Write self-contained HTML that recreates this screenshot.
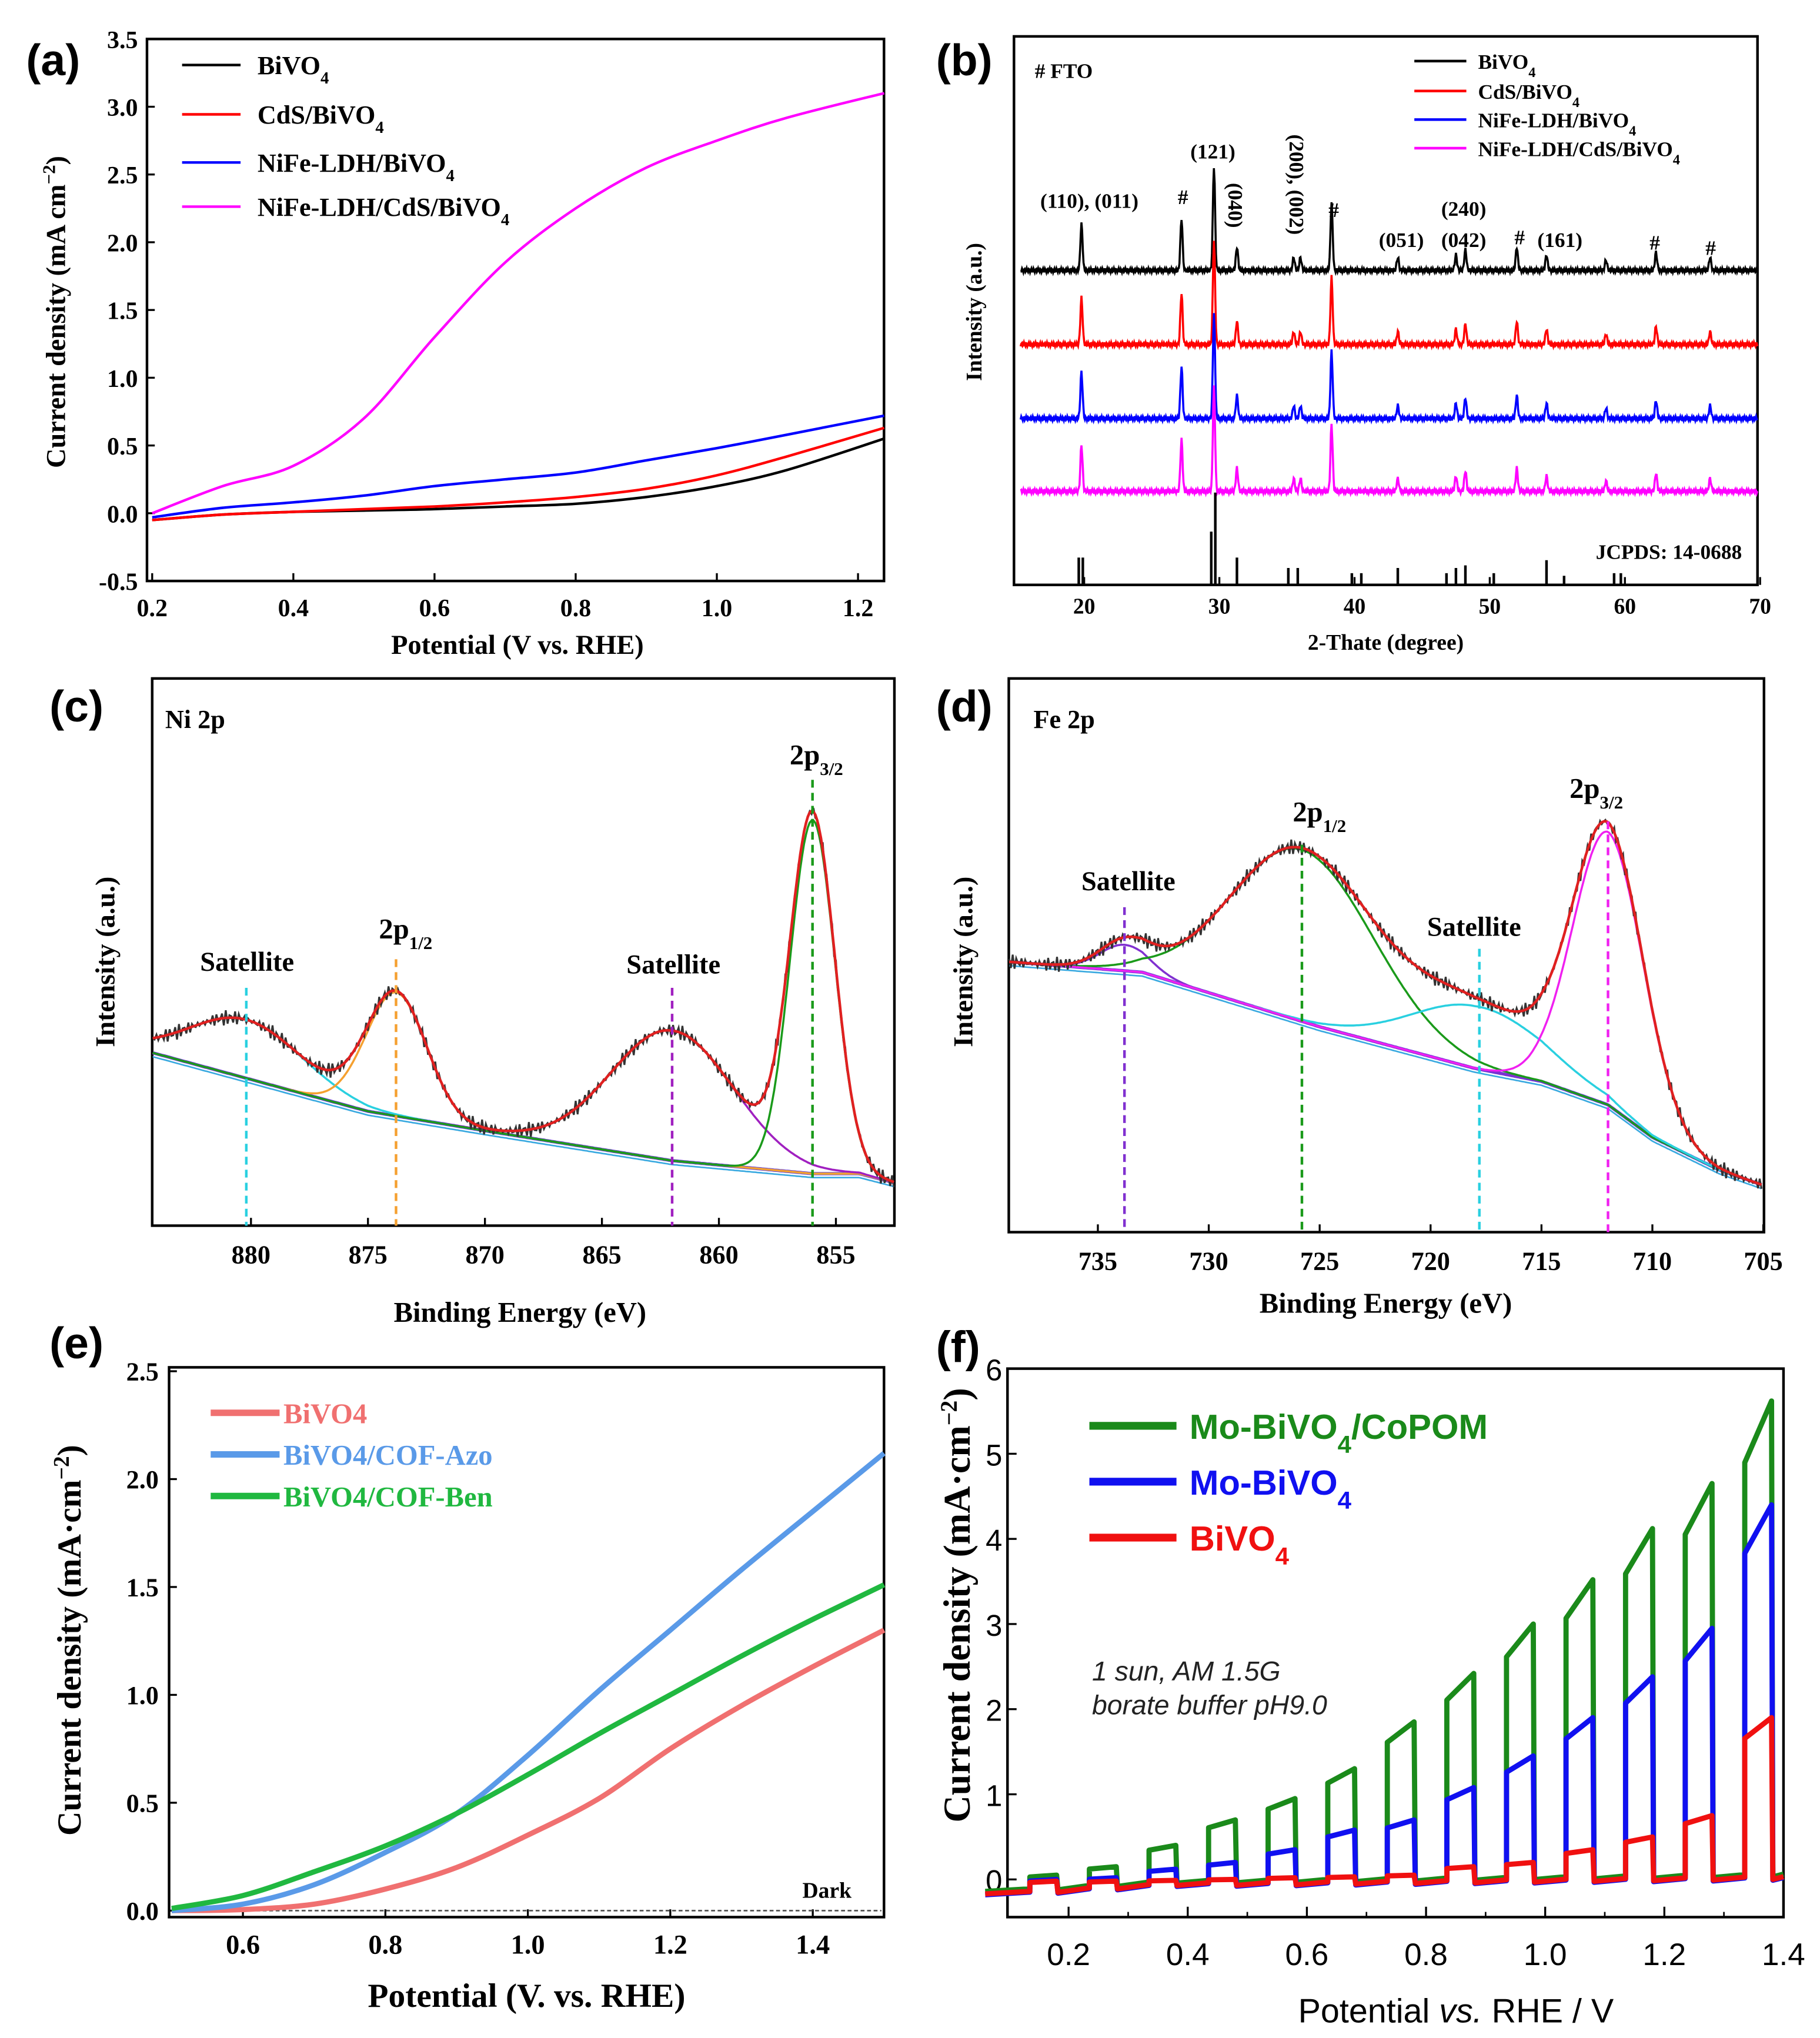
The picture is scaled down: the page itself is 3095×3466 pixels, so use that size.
<!DOCTYPE html>
<html><head><meta charset="utf-8"><style>
html,body{margin:0;padding:0;background:#fff;}
svg{display:block;}
.ser{font-family:"Liberation Serif",serif;font-weight:bold;}
.san{font-family:"Liberation Sans",sans-serif;}
</style></head><body>
<svg id="fig" xmlns="http://www.w3.org/2000/svg" width="3095" height="3466" viewBox="0 0 1400 1568">
<rect width="1400" height="1568" fill="#fff"/>
</svg>
<script>
// ---------- DATA ----------
// (a)
const aX=[0.2,0.3,0.4,0.5,0.6,0.7,0.8,0.9,1.0,1.1,1.237];
const aBi=[-0.05,-0.01,0.01,0.02,0.03,0.05,0.07,0.12,0.2,0.32,0.55];
const aCdS=[-0.05,-0.01,0.01,0.03,0.05,0.08,0.12,0.18,0.28,0.42,0.63];
const aNiFe=[-0.03,0.04,0.08,0.13,0.2,0.25,0.3,0.39,0.48,0.58,0.72];
const aAll=[0.0,0.2,0.35,0.7,1.3,1.85,2.25,2.55,2.75,2.92,3.1];
const aYTicks=[-0.5,0,0.5,1,1.5,2,2.5,3,3.5];
const aXTicks=[0.2,0.4,0.6,0.8,1.0,1.2];
// (b)
const bPeakPos=[19.8,27.2,29.6,31.3,35.5,36,38.3,43.2,47.5,48.2,52,54.2,58.6,62.3,66.3];
const bPeakH=[36,40,80,18,10,10,52,10,12,16,18,12,8,14,10];
const bBase=[208,265,322,378];
const bRefPos=[19.6,19.9,29.4,29.7,31.3,35.1,35.8,39.8,40.5,43.2,46.8,47.5,48.2,50.3,54.2,55.5,59.2,59.7];
const bRefH=[20,20,40,70,20,12,12,8,8,12,8,12,14,8,18,6,8,8];
const bXTicks=[20,30,40,50,60,70];
// (c) Ni 2p gaussians: center eV, amplitude px, sigma eV
const cC=[880.2,873.8,862,856];
const cA=[45,95,100,272];
const cS=[2.4,1.3,2.6,0.95];
const cBgE=[884.2,875,870,862,856,854,852.5];
const cBgY=[810,855,870,893,903,903,910];
const cXTicks=[880,875,870,865,860,855];
// (d) Fe 2p
const dC=[733.8,725.8,717.8,712];
const dA=[20,132,48,210];
const dS=[1.1,3.2,3.0,1.6];
const dBgE=[739,733,725,718,715,712,710,707,705];
const dBgY=[740,748,790,822,832,850,875,900,912];
const dXTicks=[735,730,725,720,715,710,705];
// (e)
const eX=[0.5,0.6,0.7,0.8,0.9,1.0,1.1,1.2,1.3,1.4,1.5];
const eBi=[0,0.005,0.03,0.1,0.2,0.35,0.52,0.75,0.95,1.13,1.3];
const eAzo=[0,0.03,0.12,0.27,0.45,0.72,1.02,1.3,1.58,1.85,2.12];
const eBen=[0.01,0.07,0.18,0.3,0.45,0.63,0.82,1.0,1.18,1.35,1.51];
const eYTicks=[0,0.5,1,1.5,2,2.5];
const eXTicks=[0.6,0.8,1.0,1.2,1.4];
// (f) chopped light: pulse end potentials and peak values
const fE=[0.18,0.28,0.38,0.48,0.58,0.68,0.78,0.88,0.98,1.08,1.18,1.28,1.38];
const fGreen=[0.05,0.15,0.4,0.7,0.95,1.3,1.85,2.42,3.0,3.52,4.12,4.65,5.62];
const fBlue=[0.0,0.02,0.12,0.2,0.35,0.58,0.7,1.08,1.45,1.9,2.38,2.95,4.4];
const fRed=[-0.02,-0.02,-0.01,0,0.02,0.03,0.05,0.15,0.2,0.35,0.5,0.75,1.9];
const fYTicks=[0,1,2,3,4,5,6];
const fXTicks=[0.2,0.4,0.6,0.8,1.0,1.2,1.4];

// ---------- HELPERS ----------
const NS="http://www.w3.org/2000/svg";
const svg=document.getElementById('fig');
function mk(tag,attrs,parent){const e=document.createElementNS(NS,tag);for(const k in attrs)e.setAttribute(k,attrs[k]);(parent||svg).appendChild(e);return e;}
function txt(x,y,s,size,cls,anchor,fill,parent){const t=mk('text',{x:x,y:y,'font-size':size,'class':cls,'text-anchor':anchor||'middle',fill:fill||'#000'},parent);t.innerHTML=s;return t;}
function lin(d0,d1,p0,p1){return v=>p0+(v-d0)*(p1-p0)/(d1-d0);}
function interpDesc(E,Y){return e=>{for(let i=0;i<E.length-1;i++){if(e<=E[i]&&e>=E[i+1]){const t=(E[i]-e)/(E[i]-E[i+1]);return Y[i]+t*(Y[i+1]-Y[i]);}}return e>E[0]?Y[0]:Y[Y.length-1];};}
function smooth(xs,ys,sx,sy){
  const P=xs.map((x,i)=>[sx(x),sy(ys[i])]);let d='M'+P[0][0]+','+P[0][1];
  for(let i=0;i<P.length-1;i++){const p0=P[i-1]||P[i],p1=P[i],p2=P[i+1],p3=P[i+2]||p2;
    d+='C'+(p1[0]+(p2[0]-p0[0])/6).toFixed(1)+','+(p1[1]+(p2[1]-p0[1])/6).toFixed(1)+' '+(p2[0]-(p3[0]-p1[0])/6).toFixed(1)+','+(p2[1]-(p3[1]-p1[1])/6).toFixed(1)+' '+p2[0].toFixed(1)+','+p2[1].toFixed(1);}
  return d;}
function box(g,x0,y0,x1,y1){return mk('rect',{x:x0,y:y0,width:x1-x0,height:y1-y0,fill:'none',stroke:'#000','stroke-width':2},g);}
function group(name){const g=mk('g',{});return g;}

// ---------- PANEL A ----------
(function(){
const g=group('panel-a');
const sx=lin(0.2,1.2,117,660), sy=lin(-0.5,3.5,447,30);
box(g,113,30,680,447);
aYTicks.forEach(v=>{mk('line',{x1:113,x2:119,y1:sy(v),y2:sy(v),stroke:'#000','stroke-width':1.5},g);txt(106,sy(v)+7,v.toFixed(1),19,'ser','end','#000',g);});
aXTicks.forEach(v=>{mk('line',{x1:sx(v),x2:sx(v),y1:447,y2:441,stroke:'#000','stroke-width':1.5},g);txt(sx(v),474,v.toFixed(1),19,'ser','middle','#000',g);});
txt(398,503,'Potential (V vs. RHE)',21,'ser','middle','#000',g);
const yl=txt(0,0,'Current density (mA cm<tspan baseline-shift="super" font-size="14">−2</tspan>)',21,'ser','middle','#000',g);yl.setAttribute('transform','translate(50,240) rotate(-90)');
txt(20,58,'(a)',34,'san','start','#000',g).setAttribute('font-weight','bold');
const ser=[[aBi,'#000','series-bivo4'],[aCdS,'#f00','series-cds-bivo4'],[aNiFe,'#00f','series-nife-bivo4'],[aAll,'#f0f','series-nife-cds-bivo4']];
ser.forEach(s=>{const p=mk('path',{d:smooth(aX,s[0],sx,sy),fill:'none',stroke:s[1],'stroke-width':2},g);});
const leg=[['BiVO<tspan baseline-shift="sub" font-size="13">4</tspan>','#000',50],['CdS/BiVO<tspan baseline-shift="sub" font-size="13">4</tspan>','#f00',88],['NiFe-LDH/BiVO<tspan baseline-shift="sub" font-size="13">4</tspan>','#00f',125],['NiFe-LDH/CdS/BiVO<tspan baseline-shift="sub" font-size="13">4</tspan>','#f0f',159]];
leg.forEach(l=>{const e=mk('line',{x1:140,x2:185,y1:l[2],y2:l[2],stroke:l[1],'stroke-width':2},g);txt(198,l[2]+7,l[0],20,'ser','start','#000',g);});
})();

// ---------- PANEL B ----------
(function(){
const g=group('panel-b');
const sx=lin(20,70,834,1354);
box(g,780,28,1352,450);
bXTicks.forEach(v=>{mk('line',{x1:sx(v),x2:sx(v),y1:450,y2:444,stroke:'#000','stroke-width':1.5},g);txt(sx(v),472,v,17,'ser','middle','#000',g);});
txt(1066,500,'2-Thate (degree)',17,'ser','middle','#000',g);
const yl=txt(0,0,'Intensity (a.u.)',17,'ser','middle','#000',g);yl.setAttribute('transform','translate(755,240) rotate(-90)');
txt(720,58,'(b)',34,'san','start','#000',g).setAttribute('font-weight','bold');
const cols=['#000','#f00','#00f','#f0f'];
bBase.forEach((b,k)=>{let d='';for(let t=15.3;t<=69.8;t+=0.05){let y=b+Math.sin(t*37+k)*1.5;bPeakPos.forEach((p,i)=>{y-=bPeakH[i]*Math.exp(-((t-p)*(t-p))/(2*0.08*0.08));});d+=(d?'L':'M')+sx(t).toFixed(1)+','+y.toFixed(1);}
  const p=mk('path',{d:d,fill:'none',stroke:cols[k],'stroke-width':1.6},g);});
bRefPos.forEach((p,i)=>{const l=mk('line',{x1:sx(p),x2:sx(p),y1:449,y2:449-bRefH[i],stroke:'#000','stroke-width':2},g);});
txt(1340,430,'JCPDS: 14-0688',16,'ser','end','#000',g);
txt(796,60,'#  FTO',16,'ser','start','#000',g);
[['(110), (011)',838,160],['#',910,157],['(121)',933,122],['#',1026,167],['(051)',1078,190],['(042)',1126,190],['(240)',1126,166],['#',1169,188],['(161)',1200,190],['#',1273,192],['#',1316,196]].forEach(a=>txt(a[1],a[2],a[0],16,'ser','middle','#000',g).setAttribute('font-weight','normal'));
let t1=txt(0,0,'(040)',16,'ser','middle','#000',g);t1.setAttribute('transform','translate(945,158) rotate(90)');t1.setAttribute('font-weight','normal');
let t2=txt(0,0,'(200), (002)',16,'ser','middle','#000',g);t2.setAttribute('transform','translate(992,142) rotate(90)');t2.setAttribute('font-weight','normal');
const leg=[['BiVO<tspan baseline-shift="sub" font-size="11">4</tspan>',cols[0],47],['CdS/BiVO<tspan baseline-shift="sub" font-size="11">4</tspan>',cols[1],70],['NiFe-LDH/BiVO<tspan baseline-shift="sub" font-size="11">4</tspan>',cols[2],92],['NiFe-LDH/CdS/BiVO<tspan baseline-shift="sub" font-size="11">4</tspan>',cols[3],114]];
leg.forEach(l=>{const e=mk('line',{x1:1088,x2:1128,y1:l[2],y2:l[2],stroke:l[1],'stroke-width':2},g);txt(1137,l[2]+6,l[0],16,'ser','start','#000',g);});
})();

// ---------- XPS helper ----------
function xps(g,C,A,S,sx,bg,e0,e1,cols,fitcol,noisy){
  const comp=C.map(()=>'');let fit='',bgd='',raw='';
  for(let e=e0;e>=e1;e-=0.08){const x=sx(e).toFixed(1);const b=bg(e);let tot=b;
    C.forEach((c,i)=>{const v=A[i]*Math.exp(-((e-c)*(e-c))/(2*S[i]*S[i]));tot-=v;comp[i]+=(comp[i]?'L':'M')+x+','+(b-v).toFixed(1);});
    bgd+=(bgd?'L':'M')+x+','+b.toFixed(1);fit+=(fit?'L':'M')+x+','+tot.toFixed(1);
    raw+=(raw?'L':'M')+x+','+(tot+noisy*(Math.sin(e*47)*0.6+Math.sin(e*113)*0.4)).toFixed(1);}
  let p=mk('path',{d:bgd,fill:'none',stroke:'#6a3cd8','stroke-width':2.5},g);
  mk('path',{d:bgd,fill:'none',stroke:'#39a9e0','stroke-width':1.2,transform:'translate(0,3)'},g);
  comp.forEach((d,i)=>{const q=mk('path',{d:d,fill:'none',stroke:cols[i],'stroke-width':1.6},g);});
  p=mk('path',{d:raw,fill:'none',stroke:'#333','stroke-width':1.4},g);
  p=mk('path',{d:fit,fill:'none',stroke:fitcol,'stroke-width':2},g);
}

// ---------- PANEL C ----------
(function(){
const g=group('panel-c');
const sx=lin(880,855,193,643);
const bg=interpDesc(cBgE,cBgY);
box(g,117,522,688,943);
cXTicks.forEach(v=>{mk('line',{x1:sx(v),x2:sx(v),y1:943,y2:937,stroke:'#000','stroke-width':1.5},g);txt(sx(v),972,v,20,'ser','middle','#000',g);});
txt(400,1017,'Binding Energy (eV)',22,'ser','middle','#000',g);
const yl=txt(0,0,'Intensity (a.u.)',21,'ser','middle','#000',g);yl.setAttribute('transform','translate(88,740) rotate(-90)');
txt(38,555,'(c)',34,'san','start','#000',g).setAttribute('font-weight','bold');
txt(127,560,'Ni 2p',20,'ser','start','#000',g);
xps(g,cC,cA,cS,sx,bg,884.2,852.5,['#2ad0e0','#f5a030','#a020c0','#1a9a1a'],'#e02020',6);
[[880.2,'#2ad0e0',760],[873.8,'#f5a030',738],[862,'#a020c0',760],[856,'#1a9a1a',600]].forEach(d=>mk('line',{x1:sx(d[0]),x2:sx(d[0]),y1:d[2],y2:943,stroke:d[1],'stroke-width':2,'stroke-dasharray':'6,4'},g));
txt(190,747,'Satellite',21,'ser','middle','#000',g);
txt(312,722,'2p<tspan baseline-shift="sub" font-size="14">1/2</tspan>',22,'ser','middle','#000',g);
txt(518,749,'Satellite',21,'ser','middle','#000',g);
txt(628,588,'2p<tspan baseline-shift="sub" font-size="14">3/2</tspan>',22,'ser','middle','#000',g);
})();

// ---------- PANEL D ----------
(function(){
const g=group('panel-d');
const sx=lin(733.8,712,865,1237);
const bg=interpDesc(dBgE,dBgY);
box(g,776,522,1357,948);
dXTicks.forEach(v=>{mk('line',{x1:sx(v),x2:sx(v),y1:948,y2:942,stroke:'#000','stroke-width':1.5},g);txt(sx(v),977,v,20,'ser','middle','#000',g);});
txt(1066,1010,'Binding Energy (eV)',22,'ser','middle','#000',g);
const yl=txt(0,0,'Intensity (a.u.)',21,'ser','middle','#000',g);yl.setAttribute('transform','translate(748,740) rotate(-90)');
txt(720,555,'(d)',34,'san','start','#000',g).setAttribute('font-weight','bold');
txt(795,560,'Fe 2p',20,'ser','start','#000',g);
xps(g,dC,dA,dS,sx,bg,739,705,['#8030d0','#1a9a1a','#2ad0e0','#f020f0'],'#e02020',6);
[[733.8,'#8030d0',698],[725.8,'#1a9a1a',650],[717.8,'#2ad0e0',730],[712,'#f020f0',632]].forEach(d=>mk('line',{x1:sx(d[0]),x2:sx(d[0]),y1:d[2],y2:948,stroke:d[1],'stroke-width':2,'stroke-dasharray':'6,4'},g));
txt(868,685,'Satellite',21,'ser','middle','#000',g);
txt(1015,632,'2p<tspan baseline-shift="sub" font-size="14">1/2</tspan>',22,'ser','middle','#000',g);
txt(1134,720,'Satellite',21,'ser','middle','#000',g);
txt(1228,614,'2p<tspan baseline-shift="sub" font-size="14">3/2</tspan>',22,'ser','middle','#000',g);
})();

// ---------- PANEL E ----------
(function(){
const g=group('panel-e');
const sx=lin(0.5,1.5,132,680), sy=lin(0,2.5,1470,1055);
box(g,130,1052,680,1475);
eYTicks.forEach(v=>{mk('line',{x1:130,x2:136,y1:sy(v),y2:sy(v),stroke:'#000','stroke-width':1.5},g);txt(122,sy(v)+7,v.toFixed(1),20,'ser','end','#000',g);});
eXTicks.forEach(v=>{mk('line',{x1:sx(v),x2:sx(v),y1:1475,y2:1469,stroke:'#000','stroke-width':1.5},g);txt(sx(v),1503,v.toFixed(1),21,'ser','middle','#000',g);});
txt(405,1544,'Potential (V. vs. RHE)',26,'ser','middle','#000',g);
const yl=txt(0,0,'Current density (mA·cm<tspan baseline-shift="super" font-size="17">−2</tspan>)',26,'ser','middle','#000',g);yl.setAttribute('transform','translate(62,1262) rotate(-90)');
txt(38,1045,'(e)',34,'san','start','#000',g).setAttribute('font-weight','bold');
mk('line',{x1:132,x2:678,y1:sy(0),y2:sy(0),stroke:'#555','stroke-width':1.2,'stroke-dasharray':'3,2'},g);
txt(655,1460,'Dark',17,'ser','end','#000',g);
[[eBi,'#f07070','series-bivo4'],[eAzo,'#5a9ae8','series-bivo4-cof-azo'],[eBen,'#20b840','series-bivo4-cof-ben']].forEach(s=>{const p=mk('path',{d:smooth(eX,s[0],sx,sy),fill:'none',stroke:s[1],'stroke-width':4},g);});
[['BiVO4','#f07070',1087],['BiVO4/COF-Azo','#5a9ae8',1119],['BiVO4/COF-Ben','#20b840',1151]].forEach(l=>{const e=mk('line',{x1:162,x2:215,y1:l[2],y2:l[2],stroke:l[1],'stroke-width':5},g);txt(218,l[2]+8,l[0],22,'ser','start',l[1],g);});
})();

// ---------- PANEL F ----------
(function(){
const g=group('panel-f');
const sx=lin(0.2,1.4,822,1372), sy=lin(0,6,1446,1053);
box(g,775,1053,1372,1475);
fYTicks.forEach(v=>{mk('line',{x1:775,x2:782,y1:sy(v),y2:sy(v),stroke:'#000','stroke-width':1.5},g);txt(771,sy(v)+9,v,23,'san','end','#000',g);});
fXTicks.forEach(v=>{mk('line',{x1:sx(v),x2:sx(v),y1:1475,y2:1467,stroke:'#000','stroke-width':1.5},g);txt(sx(v),1512,v.toFixed(1),24,'san','middle','#000',g);});
fXTicks.slice(0,6).forEach(v=>mk('line',{x1:sx(v+0.1),x2:sx(v+0.1),y1:1475,y2:1471,stroke:'#000','stroke-width':1.2},g));
txt(1120,1556,'Potential <tspan font-style="italic">vs.</tspan> RHE / V',26,'san','middle','#000',g);
const yl=txt(0,0,'Current density (mA·cm<tspan baseline-shift="super" font-size="18">−2</tspan>)',29,'ser','middle','#000',g);yl.setAttribute('transform','translate(746,1235) rotate(-90)');
txt(720,1048,'(f)',34,'san','start','#000',g).setAttribute('font-weight','bold');
function dark(v){return -0.17+Math.min(0.13,(v-0.06)*0.4)+Math.max(0,(v-0.5))*0.08;}
function chop(vals,darkOff){let d='M'+sx(0.06)+','+sy(dark(0.06)+darkOff).toFixed(1);
  fE.forEach((e,i)=>{const s=e-0.045;const dk=dark(s)+darkOff;d+='L'+sx(s).toFixed(1)+','+sy(dk).toFixed(1);
    const pk=vals[i];const lo=dk+(pk-dk)*0.87;d+='L'+sx(s).toFixed(1)+','+sy(lo).toFixed(1)+'L'+sx(e).toFixed(1)+','+sy(pk).toFixed(1);
    const dk2=dark(e)+darkOff;d+='L'+sx(e+0.002).toFixed(1)+','+sy(dk2-0.03).toFixed(1);});
  d+='L'+sx(1.4)+','+sy(dark(1.4)+darkOff).toFixed(1);return d;}
[[fGreen,'#1a8a1a',0.03,'series-mo-bivo4-copom'],[fBlue,'#1010f0',-0.01,'series-mo-bivo4'],[fRed,'#f01010',0,'series-bivo4']].forEach(s=>{const p=mk('path',{d:chop(s[0],s[2]),fill:'none',stroke:s[1],'stroke-width':4,'stroke-linejoin':'round'},g);});
[['Mo-BiVO<tspan baseline-shift="sub" font-size="19">4</tspan>/CoPOM','#1a8a1a',1097],['Mo-BiVO<tspan baseline-shift="sub" font-size="19">4</tspan>','#1010f0',1140],['BiVO<tspan baseline-shift="sub" font-size="19">4</tspan>','#f01010',1183]].forEach(l=>{const e=mk('line',{x1:838,x2:905,y1:l[2],y2:l[2],stroke:l[1],'stroke-width':6},g);const t=txt(915,l[2]+10,l[0],27,'san','start',l[1],g);t.setAttribute('font-weight','bold');});
const n1=txt(840,1293,'1 sun, AM 1.5G',21,'san','start','#222',g);n1.setAttribute('font-style','italic');
const n2=txt(840,1319,'borate buffer pH9.0',21,'san','start','#222',g);n2.setAttribute('font-style','italic');
})();
</script>
</body></html>
